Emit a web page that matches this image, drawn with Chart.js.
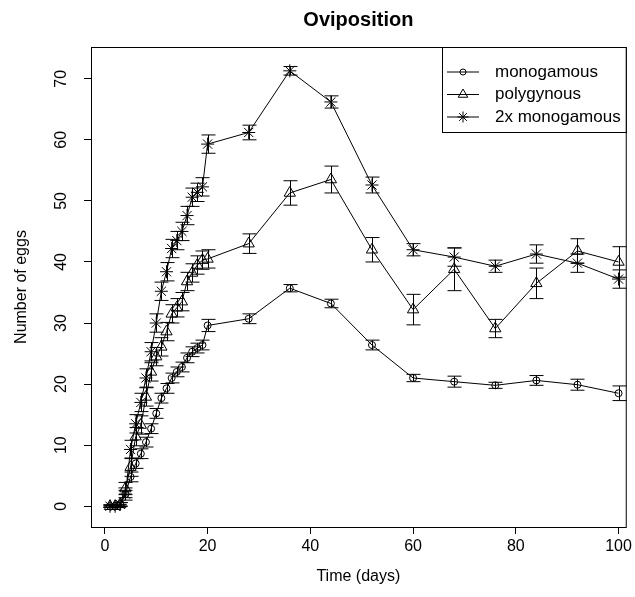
<!DOCTYPE html>
<html>
<head>
<meta charset="utf-8">
<script src="https://cdn.jsdelivr.net/npm/chart.js@4.4.1/dist/chart.umd.min.js"></script>
<style>
  html, body { margin: 0; padding: 0; background: #fff; }
  canvas { display: block; }
</style>
</head>
<body>
<canvas id="chart" width="635" height="597"></canvas>
<script>
// sampling days
const days = [1, 2, 3, 4, 5, 6, 7, 8, 9, 10, 11, 12, 13, 14, 15, 16, 17, 18, 19, 20,
              28, 36, 44, 52, 60, 68, 76, 84, 92, 100];

// mean number of eggs and standard errors per group
const monogamous = [0, 0, 0.3, 2, 4.8, 7, 8.6, 10.5, 12.7, 15.2, 17.7, 19.3, 21, 22, 22.8, 24.3, 25.3, 25.9, 26.4, 29.6,
                    30.7, 35.7, 33.2, 26.4, 21, 20.4, 19.8, 20.6, 19.9, 18.5];
const monogamousSE = [0.2, 0.2, 0.3, 0.6, 0.8, 0.8, 0.8, 0.8, 0.8, 0.8, 0.8, 0.8, 0.8, 0.8, 0.8, 0.8, 0.8, 0.8, 0.8, 1.0,
                      0.8, 0.6, 0.7, 0.8, 0.6, 0.9, 0.5, 0.8, 0.9, 1.2];

const polygynous = [0, 0, 0.3, 2.9, 6.4, 11.4, 13.3, 17.9, 22, 24.5, 26.1, 28.6, 31.5, 32.5, 33.5, 36.8, 38.2, 39.5, 40.3, 40.5,
                    43, 51.3, 53.5, 42, 32.2, 38.8, 29.1, 36.5, 41.8, 40];
const polygynousSE = [0.2, 0.2, 0.3, 1, 1.5, 1.5, 1.5, 1.5, 1.5, 1.5, 1.5, 1.5, 1.5, 1.5, 1.5, 1.5, 1.5, 1.5, 1.5, 1.5,
                      1.6, 2, 2.2, 2, 2.5, 3.5, 1.5, 2.5, 2, 2.5];

const doubleMono = [0, 0, 0.3, 2, 9.3, 13.5, 17, 21, 25.3, 30, 35.2, 38.4, 42.2, 43.5, 45, 47.6, 50.6, 51.4, 52.3, 59.3,
                    61.2, 71.3, 66.2, 52.6, 42, 40.8, 39.3, 41.3, 39.8, 37.2];
const doubleMonoSE = [0.2, 0.2, 0.3, 1, 1.5, 1.5, 1.5, 1.5, 1.5, 1.5, 1.5, 1.5, 1.5, 1.5, 1.5, 1.5, 1.5, 1.5, 1.5, 1.5,
                      1.2, 0.7, 1, 1.3, 1, 1.5, 1, 1.5, 1.5, 1.5];

const seriesNames = ['monogamous', 'polygynous', '2x monogamous'];
const xTicks = [0, 20, 40, 60, 80, 100];
const yTicks = [0, 10, 20, 30, 40, 50, 60, 70];

const FONT = '"Liberation Sans", Arial, sans-serif';

const toPoints = (vals) => vals.map((v, i) => ({ x: days[i], y: v }));

const groups = [
    { label: seriesNames[0], data: monogamous, se: monogamousSE, style: 'circle', radius: 3.5, legendRadius: 3 },
    { label: seriesNames[1], data: polygynous, se: polygynousSE, style: 'triangle', radius: 6.5, legendRadius: 5.5 },
    { label: seriesNames[2], data: doubleMono, se: doubleMonoSE, style: 'star', radius: 6.5, legendRadius: 5.5 }
];

function drawMarker(ctx, style, radius, x, y) {
    ctx.save();
    ctx.fillStyle = 'rgba(0,0,0,0)';
    ctx.strokeStyle = '#000';
    Chart.helpers.drawPoint(ctx, { pointStyle: style, radius: radius, borderWidth: 1, rotation: 0 }, x, y);
    ctx.restore();
}

// error bars, box, axis text and legend, drawn R style
const rDecor = {
    id: 'rDecor',
    afterDatasetsDraw(chart) {
        const { ctx, chartArea: a, scales: { x, y } } = chart;
        ctx.save();
        ctx.strokeStyle = '#000';
        ctx.lineWidth = 1;
        groups.forEach(g => {
            g.data.forEach((v, i) => {
                const px = Math.round(x.getPixelForValue(days[i])) + 0.5;
                const top = y.getPixelForValue(v + g.se[i]);
                const bot = y.getPixelForValue(v - g.se[i]);
                ctx.beginPath();
                ctx.moveTo(px, top); ctx.lineTo(px, bot);
                ctx.moveTo(px - 7, top); ctx.lineTo(px + 7, top);
                ctx.moveTo(px - 7, bot); ctx.lineTo(px + 7, bot);
                ctx.stroke();
            });
        });

        // plot box
        ctx.strokeRect(a.left + 0.5, a.top + 0.5, a.right - a.left, a.bottom - a.top);

        ctx.fillStyle = '#000';
        // y tick labels, rotated like R
        ctx.font = '16px ' + FONT;
        ctx.textAlign = 'center';
        ctx.textBaseline = 'middle';
        yTicks.forEach(t => {
            ctx.save();
            ctx.translate(62, y.getPixelForValue(t));
            ctx.rotate(-Math.PI / 2);
            ctx.fillText(String(t), 0, 0);
            ctx.restore();
        });

        // titles
        ctx.font = 'bold 20px ' + FONT;
        ctx.fillText('Oviposition', (a.left + a.right) / 2, 20);
        ctx.font = '16px ' + FONT;
        ctx.fillText('Time (days)', (a.left + a.right) / 2, 577);
        ctx.save();
        ctx.translate(22, (a.top + a.bottom) / 2);
        ctx.rotate(-Math.PI / 2);
        ctx.fillText('Number of eggs', 0, 0);
        ctx.restore();

        // legend
        const lx = 442, ly = a.top, lw = a.right - 442, lh = 85;
        ctx.fillStyle = '#fff';
        ctx.fillRect(lx, ly, lw, lh);
        ctx.strokeRect(lx + 0.5, ly + 0.5, lw, lh);
        ctx.fillStyle = '#000';
        ctx.textAlign = 'left';
        ctx.font = '17px ' + FONT;
        groups.forEach((g, i) => {
            const ry = ly + 25 + i * 22.5;
            ctx.beginPath();
            ctx.moveTo(447, ry); ctx.lineTo(479, ry);
            ctx.stroke();
            drawMarker(ctx, g.style, g.legendRadius, 463, ry);
            ctx.fillText(g.label, 495, ry);
        });
        ctx.restore();
    }
};

new Chart(document.getElementById('chart'), {
    type: 'line',
    data: {
        datasets: groups.map(g => ({
            label: g.label,
            data: toPoints(g.data),
            borderColor: '#000',
            borderWidth: 1,
            pointStyle: g.style,
            pointRadius: g.radius,
            pointBorderColor: '#000',
            pointBackgroundColor: 'rgba(0,0,0,0)',
            pointBorderWidth: 1,
            tension: 0
        }))
    },
    options: {
        responsive: false,
        devicePixelRatio: 1,
        animation: false,
        events: [],
        layout: { padding: { left: 0, right: 7, top: 47, bottom: 0 } },
        plugins: {
            legend: { display: false },
            tooltip: { enabled: false },
            title: { display: false }
        },
        scales: {
            x: {
                type: 'linear',
                min: -2.7,
                max: 101.4,
                afterBuildTicks: (s) => { s.ticks = xTicks.map(v => ({ value: v })); },
                afterFit: (s) => { s.height = 70; },
                grid: { drawOnChartArea: false, drawTicks: true, tickLength: 7, color: '#000' },
                border: { display: false },
                ticks: {
                    color: '#000',
                    padding: 3,
                    maxRotation: 0,
                    font: { family: FONT, size: 16 }
                }
            },
            y: {
                type: 'linear',
                min: -3.4,
                max: 75.2,
                afterBuildTicks: (s) => { s.ticks = yTicks.map(v => ({ value: v })); },
                afterFit: (s) => { s.width = 91; },
                grid: { drawOnChartArea: false, drawTicks: true, tickLength: 7, color: '#000' },
                border: { display: false },
                ticks: { display: false }
            }
        }
    },
    plugins: [rDecor]
});
</script>
</body>
</html>
